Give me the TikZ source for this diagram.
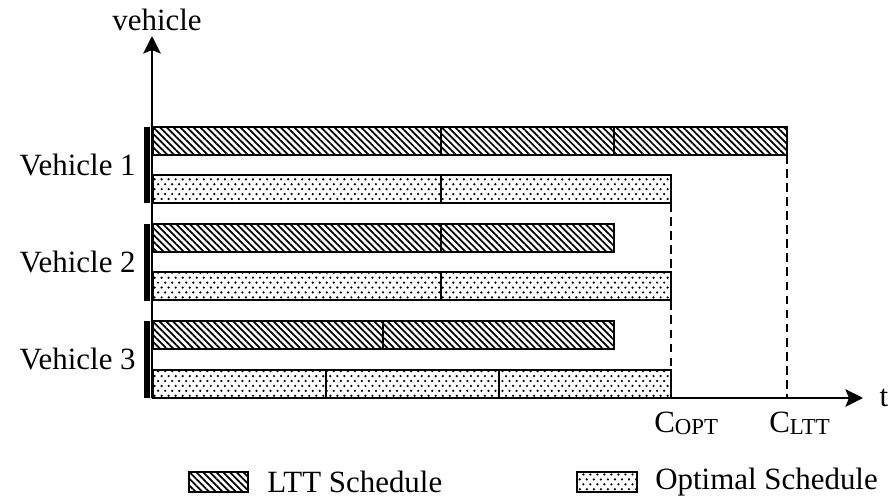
\documentclass[tikz,border=0pt]{standalone}
\usepackage{fontspec}
\setmainfont{Liberation Serif}
\usetikzlibrary{arrows.meta,patterns,patterns.meta}

% dot fill of the optimal schedule
\pgfdeclarepatternformonly{optdots}{\pgfqpoint{-1pt}{-1pt}}{\pgfqpoint{5pt}{7pt}}{\pgfqpoint{4pt}{5.6pt}}{%
  \pgfpathcircle{\pgfqpoint{0pt}{0pt}}{0.7pt}
  \pgfpathcircle{\pgfqpoint{2pt}{2.8pt}}{0.7pt}
  \pgfusepath{fill}}

\tikzset{
  ltt/.style={draw, line width=1.1pt, pattern={Lines[angle=-45,distance=2.7pt,line width=1pt]}},
  opt/.style={draw, line width=1.1pt, pattern=optdots},
  axis/.style={line width=1.1pt, -{Stealth[length=10pt,width=10pt,inset=2pt]}},
  mark line/.style={line width=1pt, dash pattern=on 5pt off 3pt},
  lbl/.style={font=\fontsize{17.6}{21}\selectfont, inner sep=0pt}
}
\newcommand{\subtxt}[1]{\raisebox{-1pt}{\fontsize{13}{15}\selectfont #1}}

\begin{document}
\begin{tikzpicture}[x=0.02cm, y=-0.02cm]
    \useasboundingbox (0,0) rectangle (894,504);

    % Axes
    \coordinate (o) at (152,398);
    \coordinate (ytip) at (152,36);
    \coordinate (xtip) at (863,398);
    \draw[axis] (o) -- (ytip);
    \draw[axis] (o) -- (xtip);
    \node[lbl] (vlabel) at (157,20) {vehicle};
    \node[lbl] (tlabel) at (884,398) {t};

    % Vehicle 1
    \foreach \a/\b in {153/441,441/614,614/787} {
        \draw[ltt] (\a,127) rectangle (\b,155);
    }
    \foreach \a/\b in {153/441,441/671} {
        \draw[opt] (\a,175) rectangle (\b,203);
    }

    % Vehicle 2
    \foreach \a/\b in {153/441,441/614} {
        \draw[ltt] (\a,224) rectangle (\b,252);
    }
    \foreach \a/\b in {153/441,441/671} {
        \draw[opt] (\a,272) rectangle (\b,300);
    }

    % Vehicle 3
    \foreach \a/\b in {153/383,383/614} {
        \draw[ltt] (\a,321) rectangle (\b,349);
    }
    \foreach \a/\b in {153/326,326/499,499/671} {
        \draw[opt] (\a,370) rectangle (\b,398);
    }

    % Vehicle labels
    \foreach \i/\top/\bot in {1/127/203,2/224/301,3/321/398} {
        \fill (144,\top) rectangle (150,\bot);
        \node[lbl, anchor=east] (veh\i) at (136,{(\top+\bot)/2}) {Vehicle \i};
    }

    % Makespans
    \coordinate (copt) at (671,203);
    \coordinate (cltt) at (787,155);
    \draw[mark line] (copt) -- (copt |- o);
    \draw[mark line] (cltt) -- (cltt |- o);
    \node[lbl, anchor=west] (coptlabel) at (654,423) {C\subtxt{OPT}};
    \node[lbl, anchor=west] (cltlabel) at (769,423) {C\subtxt{LTT}};

    % Legend
    \draw[ltt] (189,472) rectangle (248,492);
    \node[lbl, anchor=west] (lttlegend) at (267,482) {LTT Schedule};
    \draw[opt] (577,472) rectangle (637,492);
    \node[lbl, anchor=west] (optlegend) at (655,482) {Optimal Schedule};
\end{tikzpicture}
\end{document}
